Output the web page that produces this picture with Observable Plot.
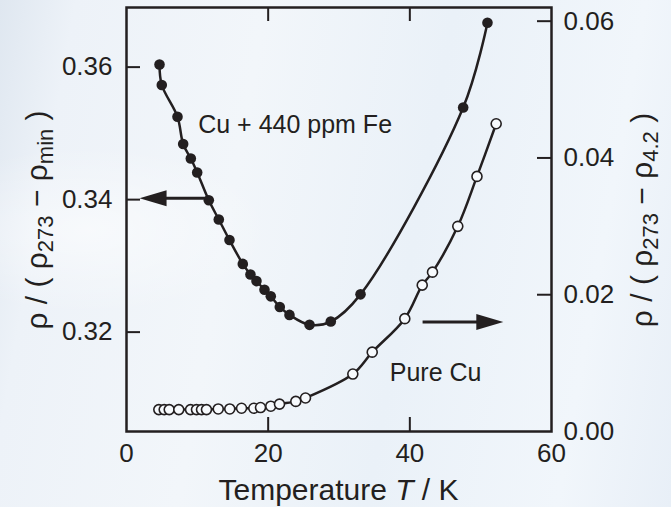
<!DOCTYPE html>
<html>
<head>
<meta charset="utf-8">
<script src="https://cdn.jsdelivr.net/npm/d3@7"></script>
<script src="https://cdn.jsdelivr.net/npm/@observablehq/plot@0.6"></script>
<style>
  html, body { margin: 0; padding: 0; width: 671px; height: 507px; overflow: hidden; }
  body {
    background:
      radial-gradient(ellipse 260px 120px at 90px 230px, rgba(255,255,255,0.55), rgba(255,255,255,0) 70%),
      linear-gradient(100deg, #dfe7f0 0%, #edf2f8 10%, #f2f6fa 35%, #eaf1f8 60%, #f1f6fb 85%, #e8eff7 100%);
  }
  #chart svg { display: block; }
</style>
</head>
<body>
<div id="chart"></div>
<script>
// ---- data ----
const feTemp = [4.66, 4.98, 7.20, 8.00, 9.08, 9.98, 11.62, 13.03, 14.54, 16.42, 17.50, 18.35, 19.48, 20.37, 21.64, 23.01, 25.84, 28.84, 33.04, 47.53, 50.96];
const feRho  = [0.3604, 0.3573, 0.3525, 0.3484, 0.3462, 0.3441, 0.3399, 0.3370, 0.3339, 0.3303, 0.3287, 0.3277, 0.3264, 0.3254, 0.3238, 0.3226, 0.3211, 0.3216, 0.3257, 0.3539, 0.3667];

const cuTemp = [4.56, 5.32, 6.03, 7.38, 9.04, 9.88, 10.59, 11.29, 12.95, 14.58, 16.24, 17.97, 18.92, 20.37, 21.60, 23.90, 25.27, 31.95, 34.69, 39.29, 41.75, 43.20, 46.77, 49.48, 52.19];
const cuRho  = [0.0032, 0.0032, 0.0032, 0.0032, 0.0032, 0.0032, 0.0032, 0.0032, 0.0033, 0.0033, 0.0034, 0.0034, 0.0035, 0.0037, 0.0040, 0.0044, 0.0049, 0.0084, 0.0116, 0.0165, 0.0214, 0.0233, 0.0300, 0.0373, 0.0450];

const xTicks = [0, 20, 40, 60];
const leftTicks = [0.32, 0.34, 0.36];
const rightTicks = [0.00, 0.02, 0.04, 0.06];

const xDomain = [0, 60];
const leftDomain = [0.305, 0.369];
const rightDomain = [0, 0.062];

// annotations (data units)
const labelFe = {T: 10.12, v: 0.3500, text: "Cu + 440 ppm Fe"};
const labelCu = {T: 37.17, vr: 0.00736, text: "Pure Cu"};
const arrowLeft = {T1: 11.44, T2: 1.84, v: 0.3402};      // points left, left axis
const arrowRight = {T1: 41.8, T2: 53.2, vr: 0.0160};     // points right, right axis

// ---- layout ----
const W = 671, H = 507;
const mL = 126, mR = 120, mT = 7, mB = 76;
const ink = "#231f20";
const font = "'Liberation Sans', Arial, Helvetica, sans-serif";

// map right-axis values into left-axis units
const conv = v => leftDomain[0] + (v - rightDomain[0]) * (leftDomain[1] - leftDomain[0]) / (rightDomain[1] - rightDomain[0]);

const fe = feTemp.map((T, i) => ({T, rho: feRho[i]}));
const cu = cuTemp.map((T, i) => ({T, rho: conv(cuRho[i])}));

const tickPx = 14;
const pxPerT = (W - mL - mR) / (xDomain[1] - xDomain[0]);
const dxTick = tickPx / pxPerT;
const dyTick = tickPx / (H - mT - mB) * (leftDomain[1] - leftDomain[0]);

const headRight = {draw(ctx) { ctx.moveTo(0, 0); ctx.lineTo(-27, -8); ctx.lineTo(-27, 8); ctx.closePath(); }};
const headLeft  = {draw(ctx) { ctx.moveTo(0, 0); ctx.lineTo(27, -8); ctx.lineTo(27, 8); ctx.closePath(); }};

const plot = Plot.plot({
  width: W, height: H,
  marginLeft: mL, marginRight: mR, marginTop: mT, marginBottom: mB,
  style: {background: "transparent", fontFamily: font, color: ink, overflow: "visible"},
  x: {domain: xDomain, axis: null},
  y: {domain: leftDomain, axis: null},
  marks: [
    // inward ticks
    Plot.ruleY(leftTicks, {y: d => d, x1: () => xDomain[0], x2: () => xDomain[0] + dxTick, stroke: ink, strokeWidth: 2}),
    Plot.ruleY(rightTicks.filter(v => v > 0), {y: d => conv(d), x1: () => xDomain[1] - dxTick, x2: () => xDomain[1], stroke: ink, strokeWidth: 2}),
    Plot.ruleX(xTicks.filter(v => v > xDomain[0] && v < xDomain[1]), {x: d => d, y1: () => leftDomain[0], y2: () => leftDomain[0] + dyTick, stroke: ink, strokeWidth: 2}),
    Plot.ruleX(xTicks.filter(v => v > xDomain[0] && v < xDomain[1]), {x: d => d, y1: () => leftDomain[1] - dyTick, y2: () => leftDomain[1], stroke: ink, strokeWidth: 2}),
    Plot.frame({stroke: ink, strokeWidth: 2.5}),
    // tick labels
    Plot.text(xTicks, {x: d => d, y: () => leftDomain[0], text: d => String(d), dy: 22, lineAnchor: "middle", textAnchor: "middle", fontSize: 26, fill: ink}),
    Plot.text(leftTicks, {x: () => xDomain[0], y: d => d, text: d => d.toFixed(2), dx: -14, lineAnchor: "middle", textAnchor: "end", fontSize: 26, fill: ink}),
    Plot.text(rightTicks, {x: () => xDomain[1], y: d => conv(d), text: d => d.toFixed(2), dx: 12, lineAnchor: "middle", textAnchor: "start", fontSize: 26, fill: ink}),
    // curves
    Plot.line(fe, {x: "T", y: "rho", curve: "catmull-rom", stroke: ink, strokeWidth: 2.5}),
    Plot.line(cu, {x: "T", y: "rho", curve: "catmull-rom", stroke: ink, strokeWidth: 2.5}),
    Plot.dot(fe, {x: "T", y: "rho", r: 5.3, fill: ink, stroke: "none"}),
    Plot.dot(cu, {x: "T", y: "rho", r: 5, fill: "#f7fafd", stroke: ink, strokeWidth: 1.6}),
    // annotations
    Plot.text([labelFe], {x: "T", y: "v", text: "text", textAnchor: "start", lineAnchor: "bottom", fontSize: 25, fill: ink}),
    Plot.text([labelCu], {x: "T", y: d => conv(d.vr), text: "text", textAnchor: "start", lineAnchor: "bottom", fontSize: 25, fill: ink}),
    Plot.link([arrowLeft], {x1: "T1", x2: d => d.T2 + 20 / pxPerT, y1: "v", y2: "v", stroke: ink, strokeWidth: 3}),
    Plot.dot([arrowLeft], {x: "T2", y: "v", symbol: headLeft, fill: ink, stroke: "none"}),
    Plot.link([arrowRight], {x1: "T1", x2: d => d.T2 - 20 / pxPerT, y1: d => conv(d.vr), y2: d => conv(d.vr), stroke: ink, strokeWidth: 3}),
    Plot.dot([arrowRight], {x: "T2", y: d => conv(d.vr), symbol: headRight, fill: ink, stroke: "none"})
  ]
});

document.getElementById("chart").appendChild(plot);

// axis titles with italic / subscript parts
const svg = d3.select(plot);
const xs = plot.scale("x");
const cx = xs.apply((xDomain[0] + xDomain[1]) / 2);
const cy = 220;

const xt = svg.append("text")
  .attr("x", cx).attr("y", 500)
  .attr("text-anchor", "middle")
  .attr("fill", ink)
  .style("font-family", font).style("font-size", "30px");
xt.append("tspan").text("Temperature ");
xt.append("tspan").style("font-style", "italic").text("T");
xt.append("tspan").text(" / K");

function yTitle(x, sub1, sub2) {
  const t = svg.append("text")
    .attr("transform", `translate(${x},${cy}) rotate(-90)`)
    .attr("text-anchor", "middle")
    .attr("fill", ink)
    .style("font-family", font).style("font-size", "30px");
  t.append("tspan").text("ρ / ( ρ");
  t.append("tspan").attr("dy", 6).style("font-size", "22px").text(sub1);
  t.append("tspan").attr("dy", -6).text(" − ρ");
  t.append("tspan").attr("dy", 6).style("font-size", "22px").text(sub2);
  t.append("tspan").attr("dy", -6).text(" )");
}
yTitle(47, "273", "min");
yTitle(652, "273", "4.2");
</script>
</body>
</html>
